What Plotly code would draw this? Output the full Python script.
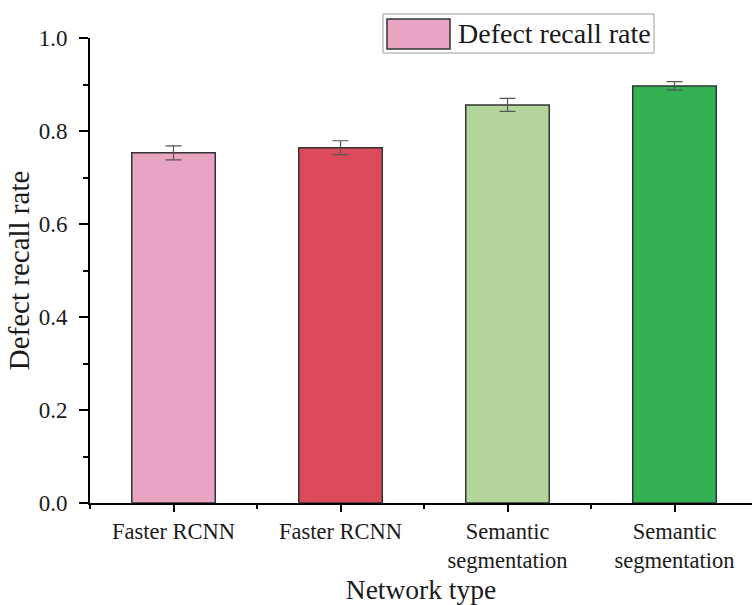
import plotly.graph_objects as go

categories = ["Faster RCNN", "Faster RCNN", "Semantic<br>segmentation", "Semantic<br>segmentation"]
recall = [0.753, 0.764, 0.856, 0.897]
errors = [0.015, 0.015, 0.014, 0.009]
bar_colors = ["#E8A4C3", "#DA4A5B", "#B4D69D", "#35B155"]
y_ticks = [0.0, 0.2, 0.4, 0.6, 0.8, 1.0]
legend_label = "Defect recall rate"

FONT = "Liberation Serif, Times New Roman, serif"
TXT = "#1a1a1a"
x_pos = list(range(len(categories)))

fig = go.Figure()
fig.add_trace(go.Bar(
    x=x_pos, y=recall, width=0.5,
    marker=dict(color=bar_colors, line=dict(color="#333333", width=1.5)),
    error_y=dict(type="data", array=errors, color="#555555", thickness=1.2, width=8),
    name=legend_label, showlegend=False,
))

fig.update_layout(
    width=752, height=605,
    margin=dict(l=90, r=0, t=38, b=102),
    paper_bgcolor="white", plot_bgcolor="white",
    font=dict(family=FONT, color=TXT),
    xaxis=dict(
        range=[-0.5, 3.464], tickvals=x_pos, ticktext=categories,
        showline=True, linecolor="black", linewidth=2,
        ticks="outside", ticklen=7, tickwidth=2, tickcolor="black",
        minor=dict(ticks="outside", dtick=1, tick0=0.5, ticklen=4, tickwidth=2, tickcolor="black"),
        showgrid=False, zeroline=False,
        tickfont=dict(size=22.5, family=FONT, color=TXT),
        title=dict(text="Network type", font=dict(size=27.5, family=FONT, color=TXT), standoff=8),
    ),
    yaxis=dict(
        range=[0, 1.0], tickvals=y_ticks, tickformat=".1f",
        showline=True, linecolor="black", linewidth=2,
        ticks="outside", ticklen=9, tickwidth=2, tickcolor="black",
        minor=dict(ticks="outside", dtick=0.1, ticklen=5, tickwidth=2, tickcolor="black"),
        showgrid=False, zeroline=False,
        tickfont=dict(size=23, family=FONT, color=TXT),
        ticklabelstandoff=7,
        title=dict(text="Defect recall rate", font=dict(size=29, family=FONT, color=TXT), standoff=1),
    ),
)

# Legend drawn manually to match the large swatch
fig.add_shape(type="rect", xref="paper", yref="paper", x0=0.4426, x1=0.852, y0=0.9677, y1=1.0516,
              line=dict(color="#9a9a9a", width=1), fillcolor="white", layer="above")
fig.add_shape(type="rect", xref="paper", yref="paper", x0=0.4486, x1=0.5438, y0=0.9763, y1=1.0409,
              line=dict(color="#333333", width=1.5), fillcolor=bar_colors[0], layer="above")
fig.add_annotation(xref="paper", yref="paper", x=0.5529, y=1.0096, xanchor="left", yanchor="middle",
                   text=legend_label, showarrow=False,
                   font=dict(size=28, family=FONT, color=TXT))

fig.write_html("out.html")
